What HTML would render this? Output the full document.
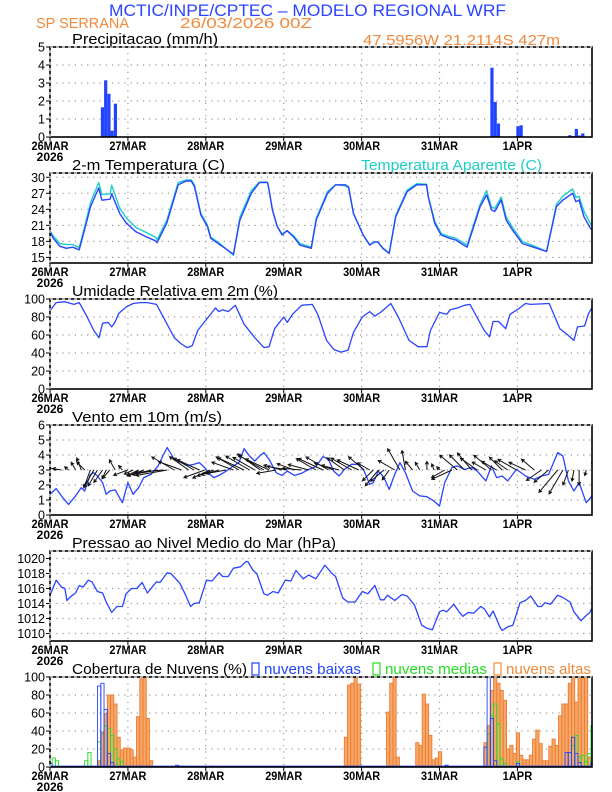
<!DOCTYPE html>
<html><head><meta charset="utf-8"><style>
html,body{margin:0;padding:0;background:#fff;}
svg{display:block;font-family:"Liberation Sans",sans-serif;}
</style></head><body>
<svg id="chart" width="612" height="792" viewBox="0 0 612 792" xmlns="http://www.w3.org/2000/svg">
<text x="109" y="16" font-size="17" fill="#2a44ff" textLength="397" lengthAdjust="spacingAndGlyphs">MCTIC/INPE/CPTEC – MODELO REGIONAL WRF</text>
<text x="36" y="28" font-size="15" fill="#f08a3c" textLength="93" lengthAdjust="spacingAndGlyphs">SP SERRANA</text>
<text x="180" y="28" font-size="15" fill="#f08a3c" textLength="132" lengthAdjust="spacingAndGlyphs">26/03/2026 00Z</text>
<text x="363" y="45" font-size="15" fill="#f08a3c" textLength="197" lengthAdjust="spacingAndGlyphs">47.5956W 21.2114S 427m</text>
<g id="plots"></g>
</svg>
<script>
// ---------- DATA ----------
const dayLabels = ["26MAR","27MAR","28MAR","29MAR","30MAR","31MAR","1APR"];
const precipHours = [16,17,18,19,20,45,116,120,136,137,138,144,145,160,161,162,163,164];
const precipVals  = [1.65,3.15,2.4,0.35,1.85,0.03,0.03,0.03,3.85,1.95,0.75,0.6,0.65,0.1,0.05,0.45,0.08,0.2];

const tempHours = [0,1,3,5,7,9,11,12.5,15,16,18.5,19,21.5,23.5,26.5,29.5,32.5,33,36,39.5,42,43.5,44.5,46.5,48.5,49.5,52.5,56.5,58.5,62,64.5,67,67.5,68.5,70,71.5,73,75,77,80.5,82,85.5,88,91,92,93.5,96.5,98.5,100,101,102.5,104.5,106.5,110,113,116,116.5,118.5,120.5,123,125,128.5,132.5,134.5,136,137,139,140.5,142.5,145.5,150,153,156,158,161,162,163,164.5,166.5,167];
const tempVals = [19.8,18.6,17.1,16.7,16.9,16.4,21,24.5,28,25.7,25.9,26.9,23.2,21.4,19.8,18.9,18.1,17.75,21.5,28.6,29.3,29.3,28.3,22.9,20.8,18.6,17.3,15.6,22,27,29,29,27.6,23.9,20.8,19.2,20,18.9,17.3,16.7,22,27,28.6,28.6,28.2,23.2,19.2,17.3,17.9,17.9,16.7,15.75,22.6,27.3,28.6,28.6,26.4,21.4,19.2,18.6,18.25,16.9,24.5,26.7,23.9,23.6,25.75,22,20.1,17.6,16.7,16.1,24.5,25.75,27,25.4,25.75,22.6,20.4,20.2];
const apparentVals = [20.0,19.0,17.6,17.4,17.4,16.8,21.5,25.3,29.0,26.8,26.9,28.5,24.2,22.4,20.6,19.7,18.8,18.3,22,29.0,29.5,29.5,28.6,23.2,21.1,18.8,17.5,15.4,22.5,27.5,29.1,29.1,27.6,23.9,20.8,19.4,20.0,19.1,17.6,16.9,22.3,27.3,28.6,28.4,28.0,23.2,19.2,17.4,17.9,17.9,16.8,15.8,22.8,27.6,28.8,28.7,26.5,21.8,19.5,18.9,18.6,17.3,24.9,27.5,24.4,24.2,26.3,22.6,20.6,18.0,16.9,16.1,24.9,26.5,27.8,26.3,26.4,23.6,21.3,21.0];

const rhHours = [0,1.9,4.6,7.4,9,11.3,13.5,15.1,16.2,17.9,19,20,21.2,23.4,25.6,27.8,30,32.8,35.5,38.3,40.5,42.2,43.8,45.5,47.7,51,52,53.2,54.9,57.1,59.8,63.1,65.9,67.5,69.2,72,73.1,74.7,77.5,80.8,82.5,85.2,87.4,89.6,91.8,93.5,96.2,98.5,100.1,101.8,105,107.3,110.6,113.4,116.1,117.2,120,122.2,123.3,125.5,127.7,129.4,133.8,135.4,136.5,138.2,140.4,141.7,144.3,146.5,148.1,153.8,157.1,159.2,161.4,162.5,164.7,165.8,167.4];
const rhVals = [87,96,97,94,96,81,65,57,73,74,69,74,84,91,95,96,96,94,76,57,50,46,48,65,75,90,86,88,86,93,72,57,46,47,67,80,74,83,93,94,83,54,44,41,43,63,80,86,81,85,95,80,54,47,47,65,85,83,88,90,93,94,65,58,75,75,67,83,89,95,94,95,67,61,54,69,70,83,93];

const windHours = [0,1.9,3.5,5.7,7.9,9.6,10.7,12.4,13.5,14.6,16.2,17.3,18.4,20.1,22.3,24,25.6,27.3,28.9,31.1,33.3,35,36.1,38.3,40.5,42.7,44.4,46,47.7,49.3,50.4,52.1,54.3,56.5,58.2,59.8,61.5,63.1,64.8,65.9,67.5,69.7,71.4,73.1,75.3,77.5,79.7,81.9,84.1,85.8,87.4,89.1,90.7,92.9,95.1,96.8,98.5,99.6,101.2,102.9,104.5,106.2,107.8,109.5,111.7,113.9,116.1,118.3,120,121.6,123.8,125.5,127.7,129.9,131.6,134.3,136,137.6,139.3,141,143.7,146.5,149.2,151.4,153.6,156.4,158,159.7,161.4,163,165.2,167.4];
const windSpeed = [1.38,1.76,1.27,0.71,1.27,1.82,1.6,2.71,2.82,2.6,2.16,1.38,1.6,1.67,0.82,2.16,1.38,1.82,2.49,2.71,3.27,4.04,4.49,3.71,3.49,3.31,3.38,3.49,3.16,2.71,2.49,2.64,2.93,3.27,3.49,4.42,3.93,3.6,3.98,4.16,3.71,2.82,2.64,2.93,2.64,2.78,3.04,3.22,3.89,3.71,2.93,2.6,3.04,3.38,3.38,2.93,2.04,2.16,2.93,2.49,1.71,2.71,3.49,2.82,1.6,1.27,1.22,0.93,0.6,2.16,3.16,3.27,3.04,3.16,2.93,2.27,3.27,2.49,2.6,2.27,3.04,2.6,2.38,2.6,2.71,4.16,3.93,2.27,1.6,2.16,0.82,1.38];
const windDir = [150,160,170,140,120,110,135,250,240,240,235,245,230,120,130,200,205,205,200,195,190,185,190,150,160,145,150,155,200,205,200,195,190,160,150,155,150,150,145,150,155,190,165,170,160,175,165,150,155,150,160,165,145,150,155,140,150,225,230,220,235,150,120,100,130,120,90,110,130,210,205,140,135,130,145,150,140,150,135,145,150,155,140,215,220,230,240,250,260,270,255,95];

const presHours = [0,1.9,3.5,4.6,5.2,6.3,7.9,9,10.2,11.8,12.9,14.6,16.2,17.3,19,20.6,22.3,23.4,25.1,26.7,28.4,30,32.8,33.9,36.1,37.2,40,41.6,43.3,44.4,46,48.2,49.9,52.1,53.2,54.9,56.5,58.7,60.4,60.9,62.6,63.7,65.9,67,68.7,70.3,72.5,74.2,75.8,78,79.7,81.9,84.7,86.9,88,90.2,91.8,94,96.2,97.9,100.1,101.8,102.9,104,106.2,108.4,110,112.3,114.5,116.1,117.8,120,121.1,122.2,124.4,126,127.2,128.8,130.5,132.7,133.8,135.4,136.5,138.8,139.3,141,142.6,144.8,146.5,148.1,150.3,151.4,152.5,154.2,156.4,158,160.2,161.4,163.6,165.2,166.3,167.4];
const presVals = [1015.1,1017.1,1016.2,1016,1014.4,1014.9,1015.4,1016.4,1016.2,1017.1,1016.9,1015.6,1015.4,1014.2,1012.8,1013.6,1013.6,1015.3,1016,1016,1016.8,1015.4,1016.9,1016.8,1018.1,1018,1016.7,1015.3,1013.6,1014,1014.1,1017.1,1017,1018.1,1017.6,1017.6,1018.7,1018.9,1019.6,1019.6,1018.4,1018,1015.3,1015.1,1015.6,1015.4,1017.1,1017,1018.4,1017.3,1017.8,1017.3,1019.1,1018,1017.6,1014.7,1014.2,1014.2,1015.6,1015.3,1016.4,1014.5,1014.5,1015.1,1014.4,1015.2,1015,1013.8,1011.1,1010.7,1010.5,1012.9,1013.1,1012.9,1013.9,1012.9,1012.3,1012.8,1012.7,1013.6,1013.3,1012.2,1013,1010.7,1010.4,1010.9,1011.1,1014.1,1014.4,1015,1013.6,1013.6,1014.1,1013.9,1015.1,1014.8,1014.2,1012.9,1011.7,1012.4,1012.8,1013.8];

const lowHours = [0,15,16,17,18,19,39,41,50,122,134,135,136,137,144,159,160,161,162,163,167];
const lowVals  = [4,90,93,64,15,5,2,1,1,2,22,100,54,7,4,16,16,33,15,5,5];
const midHours = [1,2,11,12,15,16,17,18,19,20,21,22,135,136,137,138,139,140,144,161,162,163,164,165,166,167];
const midVals  = [10,7,7,16,28,37,46,43,35,20,9,6,37,57,70,48,9,4,6,24,35,11,13,6,15,46];
const highHours = [15,16,17,18,19,20,21,22,23,24,25,26,27,28,29,30,31,91,92,93,94,95,104,105,106,107,113,114,115,116,117,118,119,120,134,135,136,137,138,139,140,141,142,143,144,145,146,147,148,149,150,151,152,153,154,155,156,157,158,159,160,161,162,163,164,165,166];
const highVals  = [7,39,59,80,80,70,33,19,21,21,19,11,56,98,100,54,7,33,91,93,100,92,61,93,100,11,27,24,81,70,35,8,10,17,27,46,85,100,93,85,74,20,24,15,38,13,8,8,13,31,41,26,7,7,23,31,24,57,70,70,93,100,72,100,100,100,11];

// ---------- GEOMETRY ----------
const NS = "http://www.w3.org/2000/svg";
const X0 = 50, PXH = 3.246, XR = 592, H = 90;
const g = document.getElementById('plots');
function X(h){ return X0 + h*PXH; }
function mk(tag, attrs, parent){
  const e = document.createElementNS(NS, tag);
  for (const k in attrs) e.setAttribute(k, attrs[k]);
  (parent||g).appendChild(e);
  return e;
}
function txt(s, attrs, parent){ const e = mk('text', attrs, parent); e.textContent = s; return e; }

function panel(name, top, vmin, vmax, ticks, tickFmt){
  const Y = v => top + H*(vmax - v)/(vmax - vmin);
  const pg = mk('g', {});
  
  
  ticks.forEach(t => {
    const y = Y(t);
    if (y > top+1 && y < top+H-1) {
      const l = mk('line', {x1:X0, x2:XR, y1:y, y2:y, stroke:'#999', 'stroke-width':1.2, 'stroke-dasharray':'1.2 5'}, pg);
      
      
    }
    const tl = mk('line', {x1:X0-4, x2:X0, y1:y, y2:y, stroke:'#000', 'stroke-width':1}, pg);
    
    
    const lab = txt(tickFmt(t), {x:X0-5, y:y+4.5, 'font-size':12.5, 'text-anchor':'end', fill:'#000'}, pg);
    
    
  });
  for (let d=1; d<dayLabels.length; d++){
    const x = X(d*24);
    const l = mk('line', {x1:x, x2:x, y1:top, y2:top+H, stroke:'#999', 'stroke-width':1.2, 'stroke-dasharray':'1.2 5'}, pg);
    
    
  }
  dayLabels.forEach((d,i) => {
    const x = X(i*24);
    const tk = mk('line', {x1:x, x2:x, y1:top+H, y2:top+H+4, stroke:'#000', 'stroke-width':1}, pg);
    
    
    const w = d.length*7.4;
    const t = txt(d, {x:x, y:top+H+13, 'font-size':12, 'font-weight':'bold', 'text-anchor':'middle', textLength:w, lengthAdjust:'spacingAndGlyphs', fill:'#000'}, pg);
    
    
  });
  const yr = txt('2026', {x:X0, y:top+H+24, 'font-size':12, 'font-weight':'bold', 'text-anchor':'middle', fill:'#000'}, pg);
  
  
  const clipId = 'clip-' + name;
  const cp = mk('clipPath', {id:clipId}, pg);
  mk('rect', {x:X0, y:top, width:XR-X0, height:H}, cp);
  const data = mk('g', {'clip-path':'url(#'+clipId+')'}, pg);
  
  
  return {Y, pg, data, top};
}
function frame(p, name){
  const f = mk('rect', {x:X0, y:p.top, width:XR-X0, height:H, fill:'none', stroke:'#000', 'stroke-width':1.6}, p.pg);
  
  
  const d = mk('path', {d:`M${X0},${p.top+H} L${X0},${p.top} L${XR},${p.top}`, fill:'none', stroke:'#fff', 'stroke-width':1, 'stroke-dasharray':'3 3'}, p.pg);
  
  
}
function title(s, x, y, w, color, name, parent){
  const t = txt(s, {x:x, y:y, 'font-size':15, fill:color, textLength:w, lengthAdjust:'spacingAndGlyphs'}, parent);
  
  
  return t;
}
function line(p, hours, vals, color, name, w){
  const d = hours.map((h,i) => (i?'L':'M') + X(h).toFixed(1) + ',' + p.Y(vals[i]).toFixed(1)).join(' ');
  const l = mk('path', {d:d, fill:'none', stroke:color, 'stroke-width':w||1.3, 'stroke-linejoin':'round'}, p.data);
  
  
}
const fmt0 = v => String(v);

// Panel 1: precipitation
const p1 = panel('precip', 47, 0, 5, [0,1,2,3,4,5], fmt0);
title('Precipitacao (mm/h)', 72, 44, 146, '#000', 'precip-title', p1.pg);
precipHours.forEach((h,i) => {
  const y = p1.Y(precipVals[i]);
  const b = mk('rect', {x:X(h)-1.1, y:y, width:3.2, height:p1.Y(0)-y, fill:'#2244ff'}, p1.data);
  
  
});
frame(p1, 'precip');

// Panel 2: temperature
const p2 = panel('temp', 173, 13.95, 30.8, [15,18,21,24,27,30], fmt0);
title('2-m Temperatura (C)', 72, 170, 153, '#000', 'temp-title', p2.pg);
title('Temperatura Aparente (C)', 361, 170, 181, '#1ccfc4', 'apparent-temp-legend', p2.pg);
line(p2, tempHours, apparentVals, '#1ccfc4', 'apparent-temp-line', 1.4);
line(p2, tempHours, tempVals, '#2a44ff', 'temp-line', 1.4);
frame(p2, 'temp');

// Panel 3: humidity
const p3 = panel('rh', 299, 0, 100, [0,20,40,60,80,100], fmt0);
title('Umidade Relativa em 2m (%)', 72, 296, 206, '#000', 'rh-title', p3.pg);
line(p3, rhHours, rhVals, '#2a44ff', 'rh-line');
frame(p3, 'rh');

// Panel 4: wind
const p4 = panel('wind', 425, 0, 6, [0,1,2,3,4,5,6], fmt0);
title('Vento em 10m (m/s)', 72, 422, 150, '#000', 'wind-title', p4.pg);
line(p4, windHours, windSpeed, '#2a44ff', 'wind-speed-line');
windHours.forEach((h,i) => {
  const x0 = X(h), y0 = p4.Y(3);
  const a = windDir[i]*Math.PI/180, L = windSpeed[i]*7;
  const x1 = x0 + L*Math.cos(a), y1 = y0 - L*Math.sin(a);
  const hl = 3.4, ha = 0.5;
  const b = a + Math.PI;
  const d = `M${x0.toFixed(1)},${y0.toFixed(1)} L${x1.toFixed(1)},${y1.toFixed(1)} M${(x1+hl*Math.cos(b-ha)).toFixed(1)},${(y1-hl*Math.sin(b-ha)).toFixed(1)} L${x1.toFixed(1)},${y1.toFixed(1)} L${(x1+hl*Math.cos(b+ha)).toFixed(1)},${(y1-hl*Math.sin(b+ha)).toFixed(1)}`;
  const ar = mk('path', {d:d, fill:'none', stroke:'#111', 'stroke-width':1}, p4.data);
  
  
});
frame(p4, 'wind');

// Panel 5: pressure
const p5 = panel('pressure', 551, 1009, 1021, [1010,1012,1014,1016,1018,1020], fmt0);
title('Pressao ao Nivel Medio do Mar (hPa)', 72, 548, 264, '#000', 'pressure-title', p5.pg);
line(p5, presHours, presVals, '#2a44ff', 'pressure-line');
frame(p5, 'pressure');

// Panel 6: clouds
const p6 = panel('cloud', 677, 0, 100, [0,20,40,60,80,100], fmt0);
title('Cobertura de Nuvens (%)', 72, 674, 175, '#000', 'cloud-title', p6.pg);
function legend(x, label, w, color, name){
  const r = mk('rect', {x:x, y:663, width:7, height:12, fill:'none', stroke:color, 'stroke-width':1.2}, p6.pg);
  
  
  title(label, x+12, 674, w, color, name + '-legend-label', p6.pg);
}
legend(252, 'nuvens baixas', 97, '#2244ff', 'low-cloud');
legend(373, 'nuvens medias', 102, '#22dd22', 'mid-cloud');
legend(494, 'nuvens altas', 85, '#f08a3c', 'high-cloud');
function bars(hours, vals, fill, stroke, name){
  hours.forEach((h,i) => {
    const y = p6.Y(vals[i]);
    const b = mk('rect', {x:X(h)-1.1, y:y, width:3.2, height:p6.Y(0)-y, fill:fill, stroke:stroke, 'stroke-width':0.9}, p6.data);
    
    
  });
}
bars(highHours, highVals, '#f6a868', '#ee7a30', 'high-cloud-bar');
bars(midHours, midVals, 'none', '#22dd22', 'mid-cloud-bar');
bars(lowHours, lowVals, 'none', '#2244ff', 'low-cloud-bar');
const base = mk('line', {x1:X0, x2:XR, y1:p6.Y(0)-0.8, y2:p6.Y(0)-0.8, stroke:'#2244ff', 'stroke-width':1.2}, p6.data);


frame(p6, 'cloud');
</script>
</body></html>
